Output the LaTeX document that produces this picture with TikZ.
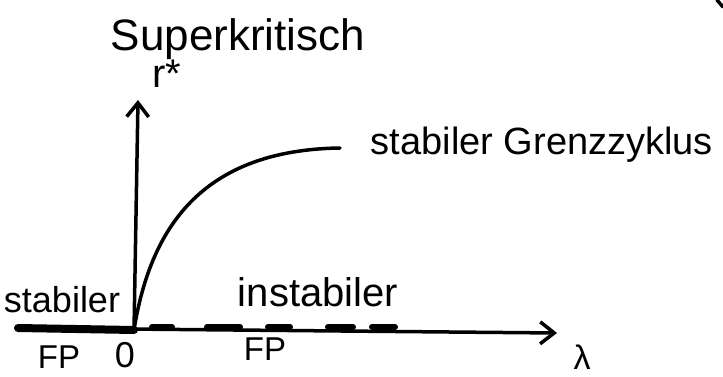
\documentclass[tikz,border=0pt]{standalone}
\usepackage{fontspec}
\setmainfont{Liberation Sans}
\usetikzlibrary{arrows.meta}
\newcommand{\handsize}[1]{\fontsize{#1}{#1}\selectfont}

\begin{document}
\begin{tikzpicture}[
    x=1pt, y=-1pt,
    every node/.style={inner sep=0pt},
    axis/.style={line width=3.5pt, line cap=round, -{Straight Barb[length=14pt,width=22pt,line width=3.5pt]}},
    branch/.style={line width=3.5pt, line cap=round},
    stablefp/.style={line width=8pt, line cap=round},
    unstablefp/.style={line width=6pt, line cap=round}
]
\useasboundingbox (0,0) rectangle (723,377);
% axes
\coordinate (O) at (134,330);
\coordinate (xstart) at (18,328);
\coordinate (xend) at (557,333);
\coordinate (ystart) at (134,331);
\coordinate (yend) at (138,100);
\draw[axis] (xstart) -- (xend);
\draw[axis] (ystart) -- (yend);
\node[font=\handsize{34}] (lambda) at (582,357) {λ};
\node[font=\handsize{40}] (rstar) at (167,74) {r*};
\node[font=\handsize{44}] (title) at (238,39) {Superkritisch};
% fixed points on the axis
\draw[stablefp] (xstart) -- (O);
\foreach \a/\b in {152/172, 207/240, 268/290, 328/353, 372/395}
    \draw[unstablefp] (\a,327) -- (\b,327);
\node[font=\handsize{36}] (stable) at (62,300) {stabiler};
\node[font=\handsize{40}] (unstable) at (318,292) {instabiler};
\node[font=\handsize{33}] (fpleft) at (59,357) {FP};
\node[font=\handsize{36}] (zero) at (125,355) {0};
\node[font=\handsize{33}] (fpright) at (265,349) {FP};
% limit cycle branch
\coordinate (cycleend) at (340,148);
\draw[branch] (O) .. controls (150,230) and (200,150) .. (cycleend);
\node[font=\handsize{38}] (cycle) at (542,145) {stabiler Grenzzyklus};
% stray mark in the corner
\draw[branch] (717,0) -- (723,7);
\end{tikzpicture}
\end{document}
